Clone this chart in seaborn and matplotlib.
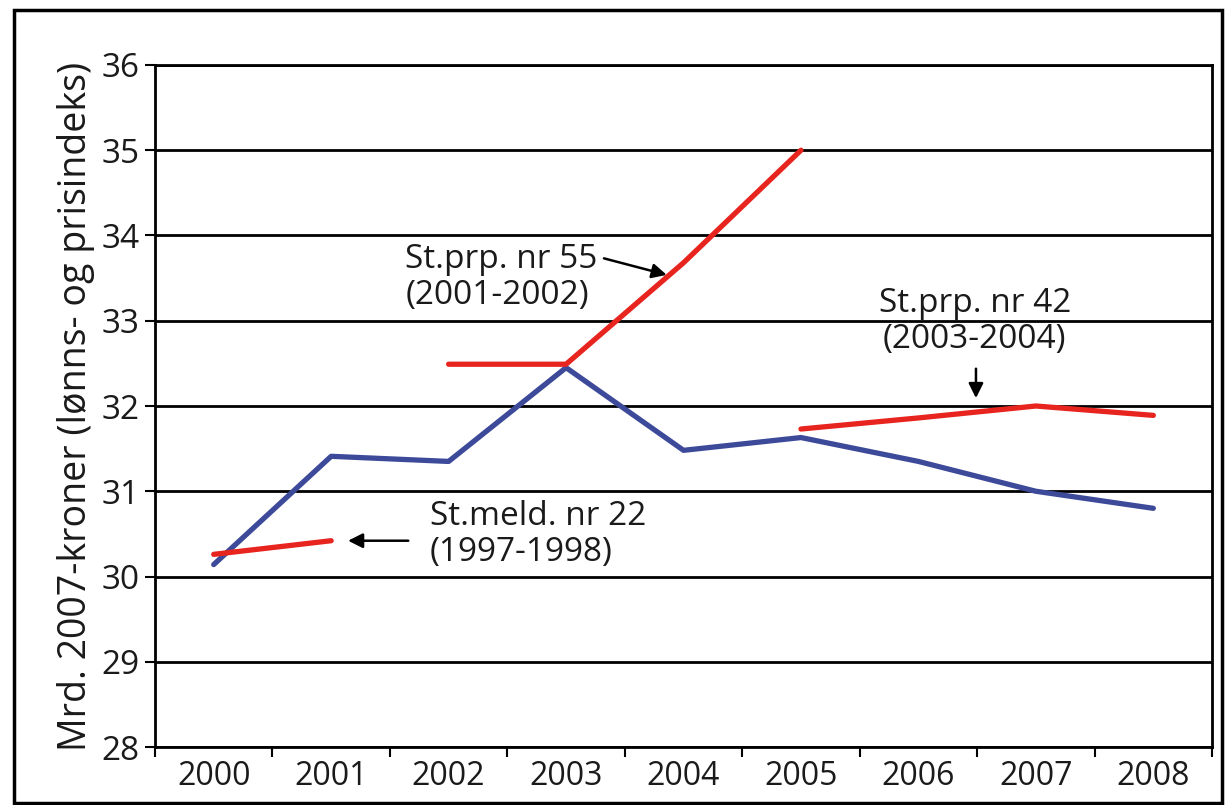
import numpy as np
import pandas as pd
import seaborn as sns
import matplotlib.pyplot as plt
from matplotlib.patches import Rectangle

# actual spending (blue) per year
years = [2000, 2001, 2002, 2003, 2004, 2005, 2006, 2007, 2008]
actual = [30.14, 31.41, 31.35, 32.45, 31.48, 31.63, 31.35, 31.0, 30.8]

# planned levels from the white papers (red)
meld22_years = [2000, 2001]
meld22 = [30.26, 30.42]
prp55_years = [2002, 2003, 2004, 2005]
prp55 = [32.49, 32.49, 33.68, 35.0]
prp42_years = [2005, 2006, 2007, 2008]
prp42 = [31.73, 31.86, 32.0, 31.89]

yticks = [28, 29, 30, 31, 32, 33, 34, 35, 36]

blue = "#3d4a9a"
red = "#e8241f"

sns.set_theme(style="ticks")
plt.rcParams['font.family'] = ['Open Sans', 'DejaVu Sans']

fig = plt.figure(figsize=(12.31, 8.05), dpi=100)
ax = fig.add_axes([0.1259, 0.0720, 0.8587, 0.8473])

# grid first so the lines sit on top
ax.yaxis.grid(True, color="black", lw=2)
ax.set_axisbelow(True)

sns.lineplot(x=years, y=actual, color=blue, lw=3.8, ax=ax)
sns.lineplot(x=meld22_years, y=meld22, color=red, lw=3.8, ax=ax)
sns.lineplot(x=prp55_years, y=prp55, color=red, lw=3.8, ax=ax)
sns.lineplot(x=prp42_years, y=prp42, color=red, lw=3.8, ax=ax)

ax.set_xlim(1999.5, 2008.5)
ax.set_ylim(28, 36)
ax.set_yticks(yticks)
ax.set_xticks(years)
ax.set_xticks(np.arange(1999.5, 2009, 1), minor=True)
ax.tick_params(axis="x", which="major", length=0, pad=9, labelsize=23, colors="#1a1a1a")
ax.tick_params(axis="x", which="minor", length=7, width=1.5, color="black")
ax.tick_params(axis="y", length=7, width=1.5, color="black", labelsize=24, pad=4, labelcolor="#1a1a1a")

for s in ax.spines.values():
    s.set_color("black")
    s.set_linewidth(2)

ax.set_ylabel("Mrd. 2007-kroner (lønns- og prisindeks)", fontsize=27, labelpad=5, color="#1a1a1a")
ax.set_xlabel("")

# annotations
txt = dict(fontsize=24, color="#1a1a1a", linespacing=1.1)
arrow = dict(arrowstyle="-|>", color="black", lw=1.8, mutation_scale=22)

ax.text(2001.63, 33.51, "St.prp. nr 55\n(2001-2002)", ha="left", va="center", **txt)
ax.annotate("", xy=(2003.88, 33.53), xytext=(2003.3, 33.74), arrowprops=arrow)

ax.text(2006.48, 32.99, "St.prp. nr 42\n(2003-2004)", ha="center", va="center", **txt)
ax.annotate("", xy=(2006.49, 32.06), xytext=(2006.49, 32.47), arrowprops=arrow)

ax.text(2001.84, 30.49, "St.meld. nr 22\n(1997-1998)", ha="left", va="center", **txt)
ax.annotate("", xy=(2001.12, 30.42), xytext=(2001.68, 30.42), arrowprops=arrow)

# outer frame around the whole picture
fig.add_artist(Rectangle((0.0114, 0.003), 0.9814, 0.984, transform=fig.transFigure,
                         fill=False, lw=2.5, edgecolor="black"))

fig.savefig("out.png", dpi=100)
